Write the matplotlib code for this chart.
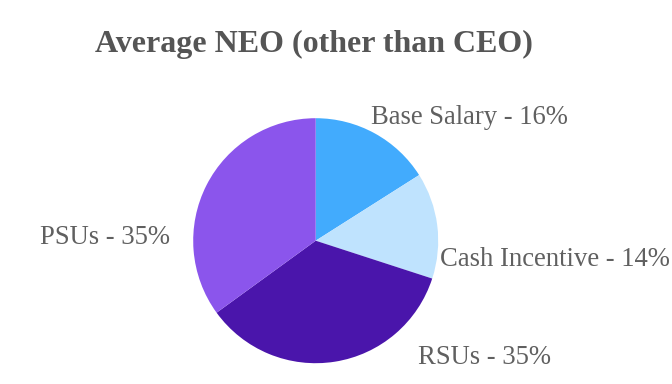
"""Pie chart of average NEO pay mix"""
import matplotlib.pyplot as plt

# Data
labels = ["Base Salary", "Cash Incentive", "RSUs", "PSUs"]
shares = [16, 14, 35, 35]
colors = ["#42abfd", "#bfe3fe", "#4a15ab", "#8b55ec"]

W, H = 672, 384
cx, cy, r = 315.7, 240.7, 122.5

fig = plt.figure(figsize=(W / 100, H / 100), dpi=100)
ax = fig.add_axes([0, 0, 1, 1])
ax.pie(shares, colors=colors, startangle=90, counterclock=False,
       wedgeprops={"linewidth": 0})
# map axes so the unit circle sits where the reference pie is
ax.set_xlim(-cx / r, (W - cx) / r)
ax.set_ylim(-(H - cy) / r, cy / r)
ax.set_aspect("auto")
ax.axis("off")

# label anchors in pixels (x, y from top, horizontal alignment)
anchors = [(371, 118, "left"), (440, 259, "left"),
           (418, 358, "left"), (170, 237, "right")]
for name, pct, (x, y, ha) in zip(labels, shares, anchors):
    fig.text(x / W, 1 - y / H, f"{name} - {pct}%", ha=ha, va="center",
             fontsize=19.2, color="#606060", family="Liberation Serif")

fig.text(314 / W, 1 - 44 / H, "Average NEO (other than CEO)", ha="center",
         va="center", fontsize=23, fontweight="bold", color="#555555",
         family="Liberation Serif")

fig.savefig("out.png", dpi=100, facecolor="white")
